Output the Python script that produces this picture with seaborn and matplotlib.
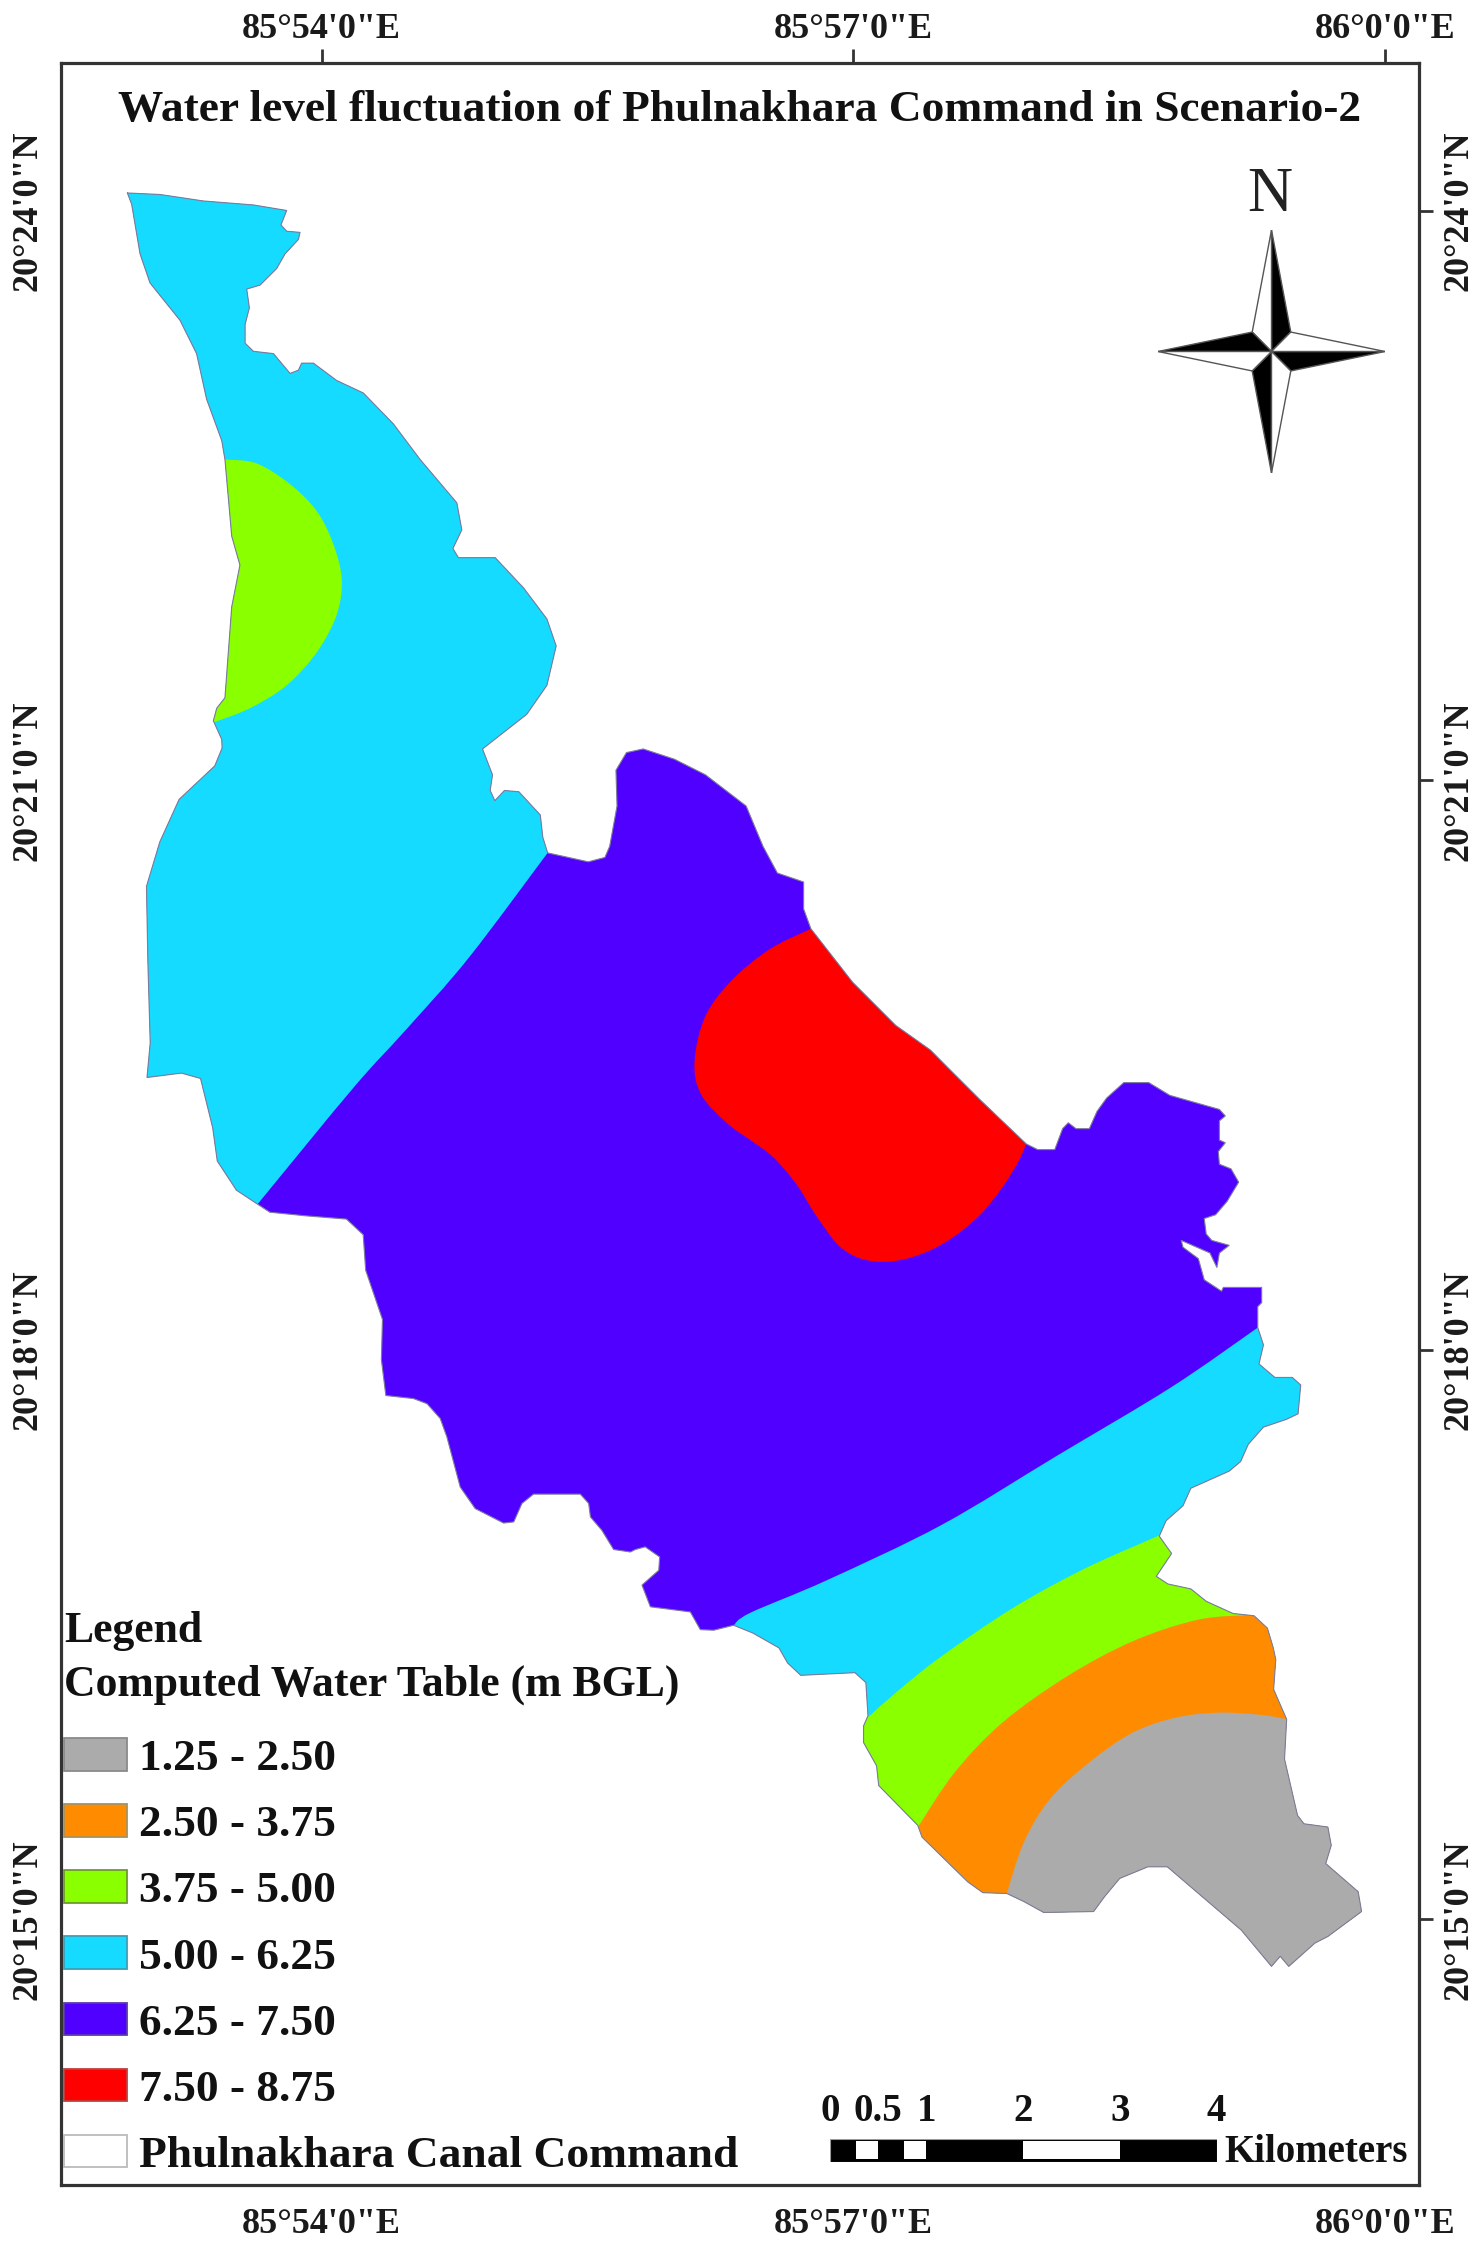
import numpy as np
import matplotlib
matplotlib.use("Agg")
import matplotlib.pyplot as plt
from matplotlib.patches import Patch, PathPatch, Polygon, Rectangle
from matplotlib.path import Path
import seaborn as sns

# traced map coordinates: minutes of arc past 85 deg E and past 20 deg N
BOUNDARY_LON = [52.916,53.099,53.342,53.623,53.809,53.777,53.809,53.884,53.875,53.800,53.753,53.660,53.585,53.600,53.576,53.576,53.623,53.735,53.828,53.875,53.893,53.959,54.089,54.239,54.408,54.557,54.763,54.791,54.741,54.772,54.978,55.137,55.268,55.320,55.268,55.155,54.907,54.963,54.950,54.976,55.030,55.111,55.231,55.245,55.272,55.500,55.593,55.620,55.661,55.655,55.714,55.808,55.983,56.157,56.385,56.479,56.560,56.707,56.707,56.748,56.981,57.224,57.418,57.525,57.697,57.955,58.019,58.115,58.159,58.191,58.234,58.309,58.352,58.406,58.502,58.642,58.760,59.038,59.071,59.038,59.038,59.071,59.032,59.038,59.103,59.146,59.081,59.017,58.953,58.964,58.995,59.093,59.038,59.024,58.985,58.824,58.834,58.920,58.953,59.050,59.060,59.275,59.275,59.253,59.253,59.285,59.260,59.349,59.447,59.494,59.479,59.414,59.285,59.200,59.157,59.093,58.878,58.834,58.739,58.701,58.770,58.684,58.749,58.878,58.964,59.114,59.232,59.307,59.339,59.354,59.342,59.415,59.403,59.476,59.512,59.646,59.665,59.634,59.816,59.835,59.646,59.573,59.427,59.379,59.330,59.160,58.746,58.637,58.479,58.394,58.333,58.053,57.943,57.846,57.712,57.627,57.371,57.347,57.128,57.116,57.043,57.043,57.068,57.056,56.995,56.691,56.617,56.569,56.423,56.315,56.203,56.128,56.072,55.848,55.801,55.895,55.900,55.819,55.764,55.736,55.642,55.576,55.512,55.502,55.455,55.193,55.128,55.082,55.025,54.866,54.782,54.707,54.670,54.596,54.520,54.365,54.340,54.346,54.252,54.238,54.144,53.917,53.715,53.648,53.527,53.420,53.394,53.326,53.219,53.026,53.044,53.031,53.023,53.098,53.206,53.406,53.447,53.445,53.398,53.417,53.463,53.501,53.547,53.501,53.463,53.445,53.360,53.304,53.211,53.043,52.987,52.940]
BOUNDARY_LAT = [24.095,24.087,24.053,24.032,24.003,23.927,23.894,23.888,23.851,23.775,23.698,23.611,23.590,23.492,23.404,23.306,23.263,23.251,23.147,23.164,23.201,23.201,23.110,23.044,22.881,22.695,22.467,22.325,22.227,22.179,22.179,22.020,21.857,21.715,21.508,21.356,21.174,21.038,20.956,20.902,20.956,20.949,20.827,20.710,20.628,20.581,20.604,20.663,20.874,21.062,21.155,21.174,21.120,21.038,20.874,20.663,20.522,20.475,20.334,20.229,19.949,19.721,19.592,19.491,19.330,19.099,19.069,19.069,19.179,19.210,19.179,19.179,19.270,19.340,19.421,19.421,19.354,19.280,19.246,19.220,19.119,19.105,19.059,18.992,18.968,18.898,18.797,18.727,18.707,18.626,18.592,18.566,18.526,18.450,18.526,18.592,18.556,18.496,18.385,18.325,18.345,18.345,18.265,18.244,18.134,18.043,17.943,17.872,17.872,17.832,17.681,17.652,17.611,17.521,17.430,17.380,17.290,17.198,17.119,17.038,16.947,16.827,16.787,16.761,16.696,16.632,16.620,16.555,16.455,16.390,16.233,16.076,15.867,15.571,15.527,15.510,15.414,15.318,15.170,15.066,14.935,14.900,14.778,14.831,14.778,14.969,15.301,15.301,15.240,15.144,15.066,15.061,15.118,15.161,15.165,15.222,15.457,15.519,15.728,15.832,15.954,16.041,16.095,16.269,16.321,16.307,16.372,16.451,16.529,16.570,16.544,16.547,16.640,16.667,16.781,16.859,16.929,16.982,16.968,16.955,16.968,17.069,17.139,17.210,17.259,17.259,17.210,17.113,17.107,17.183,17.296,17.560,17.656,17.734,17.761,17.777,17.965,18.177,18.435,18.622,18.704,18.721,18.740,18.781,18.856,19.009,19.185,19.443,19.471,19.448,19.630,20.053,20.452,20.686,20.909,21.085,21.179,21.224,21.322,21.388,21.443,21.921,22.140,22.292,22.695,22.794,23.012,23.251,23.426,23.622,23.775,24.036]

# zone edges (the smooth class contour), then the points that close each zone outside the boundary
NORTH_CYAN_LON = [55.272,54.829,54.480,54.185,53.644]
NORTH_CYAN_LAT = [20.628,20.076,19.701,19.396,18.780]
NORTH_CYAN_CLOSE = [(53.0,18.6),(52.5,18.6),(52.5,24.5),(55.8,24.5)]
NORTH_GREEN_LON = [53.463,53.641,53.828,53.978,54.071,54.118,54.089,53.978,53.809,53.603,53.407]
NORTH_GREEN_LAT = [22.695,22.674,22.565,22.423,22.249,22.063,21.878,21.682,21.508,21.388,21.316]
NORTH_GREEN_CLOSE = [(53.2,21.316),(53.2,22.695)]
RED_LON = [56.748,56.519,56.305,56.157,56.096,56.131,56.278,56.409,56.538,56.667,56.774,56.903,57.031,57.182,57.354,57.525,57.697,57.826,57.912,57.955]
RED_LAT = [20.229,20.123,19.959,19.771,19.537,19.361,19.208,19.119,19.028,18.887,18.727,18.566,18.496,18.480,18.516,18.596,18.727,18.877,19.008,19.099]
RED_CLOSE = [(58.115,19.796),(56.860,20.400)]
SOUTH_CYAN_LON = [59.253,58.770,58.126,57.482,56.838,56.409,56.315]
SOUTH_CYAN_LAT = [18.134,17.822,17.460,17.098,16.807,16.636,16.570]
SOUTH_CYAN_CLOSE = [(56.315,14.0),(60.5,14.0),(60.5,18.134)]
SOUTH_GREEN_LON = [58.698,58.277,57.872,57.467,57.224,57.078]
SOUTH_GREEN_LAT = [17.041,16.865,16.656,16.398,16.216,16.095]
SOUTH_GREEN_CLOSE = [(56.8,15.97),(56.8,14.0),(60.5,14.0),(60.5,17.041)]
ORANGE_LON = [59.221,58.917,58.552,58.186,57.822,57.554,57.354]
ORANGE_LAT = [16.625,16.599,16.486,16.303,16.059,15.797,15.519]
ORANGE_CLOSE = [(57.1,15.3),(57.1,14.0),(60.5,14.0),(60.5,16.625)]
GRAY_LON = [59.415,59.281,59.038,58.795,58.552,58.309,58.089,57.943,57.846]
GRAY_LAT = [16.076,16.098,16.111,16.085,16.006,15.850,15.658,15.432,15.161]
GRAY_CLOSE = [(57.846,14.0),(60.5,14.0),(60.5,16.076)]

CLASS_LABELS = ["1.25 - 2.50", "2.50 - 3.75", "3.75 - 5.00", "5.00 - 6.25", "6.25 - 7.50", "7.50 - 8.75"]
CLASS_COLORS = ["#ABABAB", "#FF8C00", "#89FF00", "#14DBFF", "#5000FF", "#FF0000"]
COMMAND_LABEL = "Phulnakhara Canal Command"
LON_TICKS = [54, 57, 60]
LON_LABELS = ["85°54'0\"E", "85°57'0\"E", "86°0'0\"E"]
LAT_TICKS = [24, 21, 18, 15]
LAT_LABELS = ["20°24'0\"N", "20°21'0\"N", "20°18'0\"N", "20°15'0\"N"]
SCALE_TICKS = [0, 0.5, 1, 2, 3, 4]
SCALE_LABELS = ["0", "0.5", "1", "2", "3", "4"]
SCALE_WHITE_KM = [(0.27, 0.5), (0.77, 0.99), (2.0, 3.0)]

TITLE = "Water level fluctuation of Phulnakhara Command in Scenario-2"

sns.set_theme(style="white")
plt.rcParams["font.family"] = ["Liberation Serif", "DejaVu Serif"]
palette = sns.color_palette(CLASS_COLORS)

W, H = 1479, 2259
fig = plt.figure(figsize=(W / 100, H / 100), dpi=100, facecolor="white")
ax = fig.add_axes([60.7 / W, 1 - 2184.5 / H, (1419 - 60.7) / W, (2184.5 - 63) / H])

def deg_lon(m):
    # georeference the traced minutes against the graticule ticks
    return 85 + (1.0066 * np.asarray(m, float) - 0.362) / 60

def deg_lat(m):
    return 20 + (24 - 1.00279 * (24 - np.asarray(m, float))) / 60

def contour_path(lons, lats, close):
    """Smooth curve through the traced contour, straight closure outside the boundary."""
    p = np.column_stack([deg_lon(lons), deg_lat(lats)])
    verts, codes = [p[0]], [Path.MOVETO]
    for i in range(len(p) - 1):
        p0 = p[max(i - 1, 0)]
        p3 = p[min(i + 2, len(p) - 1)]
        verts += [p[i] + (p[i + 1] - p0) / 6, p[i + 1] - (p3 - p[i]) / 6, p[i + 1]]
        codes += [Path.CURVE4] * 3
    for lo, la in close:
        verts.append(np.array([deg_lon(lo), deg_lat(la)]))
        codes.append(Path.LINETO)
    verts.append(p[0])
    codes.append(Path.CLOSEPOLY)
    return Path(np.array(verts), codes)

boundary_xy = np.column_stack([deg_lon(BOUNDARY_LON), deg_lat(BOUNDARY_LAT)])
outline = Polygon(boundary_xy, closed=True, facecolor=palette[4], edgecolor="none", zorder=1)
ax.add_patch(outline)

zones = [
    (NORTH_CYAN_LON, NORTH_CYAN_LAT, NORTH_CYAN_CLOSE, palette[3]),
    (NORTH_GREEN_LON, NORTH_GREEN_LAT, NORTH_GREEN_CLOSE, palette[2]),
    (RED_LON, RED_LAT, RED_CLOSE, palette[5]),
    (SOUTH_CYAN_LON, SOUTH_CYAN_LAT, SOUTH_CYAN_CLOSE, palette[3]),
    (SOUTH_GREEN_LON, SOUTH_GREEN_LAT, SOUTH_GREEN_CLOSE, palette[2]),
    (ORANGE_LON, ORANGE_LAT, ORANGE_CLOSE, palette[1]),
    (GRAY_LON, GRAY_LAT, GRAY_CLOSE, palette[0]),
]
for lons, lats, close, colour in zones:
    z = PathPatch(contour_path(lons, lats, close), facecolor=colour, edgecolor="none", zorder=2)
    ax.add_patch(z)
    z.set_clip_path(outline)

closed = np.vstack([boundary_xy, boundary_xy[:1]])
sns.lineplot(x=closed[:, 0], y=closed[:, 1], sort=False, estimator=None, ax=ax,
             color="#7d7d9a", linewidth=0.8, legend=False, zorder=3)

ax.set_xlim(85 + 52.527 / 60, 85 + 60.192 / 60)
ax.set_ylim(20 + 13.603 / 60, 20 + 24.780 / 60)

lon_pos = 85 + np.array(LON_TICKS) / 60
lat_pos = 20 + np.array(LAT_TICKS) / 60
TICK = dict(direction="out", length=10, width=2, color="#333333", labelcolor="#1a1a1a", labelsize=26)
ax.set_xticks(lon_pos, LON_LABELS)
ax.set_yticks(lat_pos, LAT_LABELS)
ax.tick_params(axis="x", pad=7, **TICK)
ax.tick_params(axis="y", pad=2, labelrotation=90, **TICK)
sec_x = ax.secondary_xaxis("top")
sec_x.set_xticks(lon_pos, LON_LABELS)
sec_x.tick_params(axis="x", pad=2, **TICK)
sec_y = ax.secondary_yaxis("right")
sec_y.set_yticks(lat_pos, LAT_LABELS)
sec_y.tick_params(axis="y", pad=7, labelrotation=90, **TICK)
for group in (ax.get_xticklabels(), ax.get_yticklabels(), sec_x.get_xticklabels(), sec_y.get_yticklabels()):
    for t in group:
        t.set_fontweight("bold")
for group in (ax.get_yticklabels(), sec_y.get_yticklabels()):
    for t in group:
        t.set_va("center")
for s in ax.spines.values():
    s.set_visible(True)
    s.set_linewidth(2.3)
    s.set_color("#333333")
sec_x.spines["top"].set_visible(False)
sec_y.spines["right"].set_visible(False)

fig.text(739.5 / W, 1 - 110 / H, TITLE, ha="center", va="center",
         fontsize=32.7, fontweight="bold", color="#111111", zorder=5)

edges = ["#8a8a8a", "#a8925a", "#6f9a2e", "#3d9fb5", "#5a3ab0", "#c04040"]
handles = [Patch(facecolor=c, edgecolor=e, linewidth=1.3) for c, e in zip(palette, edges)]
handles.append(Patch(facecolor="white", edgecolor="#bbbbbb", linewidth=1.3))
leg = ax.legend(handles, CLASS_LABELS + [COMMAND_LABEL],
                title="Legend\nComputed Water Table (m BGL)",
                loc="lower left", bbox_to_anchor=(64 / W, 1 - 2176 / H),
                bbox_transform=fig.transFigure, frameon=False,
                prop={"size": 32.7, "weight": "bold"},
                title_fontproperties={"size": 31.5, "weight": "bold"},
                alignment="left", borderaxespad=0.0, borderpad=0.0,
                handlelength=1.38, handleheight=0.727, handletextpad=0.27,
                labelspacing=0.55)
leg._legend_box.sep = 24
leg.get_title().set_color("#111111")
leg.get_title().set_linespacing(1.44)
for t in leg.get_texts():
    t.set_color("#111111")

# north arrow, in its own unit axes
na = fig.add_axes([1158 / W, 1 - 473 / H, 227 / W, 243 / H])
na.set_xlim(-1, 1); na.set_ylim(-1, 1); na.axis("off")
STAR_CX, STAR_CY = 0.17, 0.16
for (tx, ty, cx, cy, dark) in [
    (0, 1, STAR_CX, STAR_CY, True), (0, 1, -STAR_CX, STAR_CY, False),
    (1, 0, STAR_CX, -STAR_CY, True), (1, 0, STAR_CX, STAR_CY, False),
    (0, -1, -STAR_CX, -STAR_CY, True), (0, -1, STAR_CX, -STAR_CY, False),
    (-1, 0, -STAR_CX, STAR_CY, True), (-1, 0, -STAR_CX, -STAR_CY, False)]:
    na.add_patch(Polygon([(0, 0), (tx, ty), (cx, cy)], closed=True,
                         facecolor="black" if dark else "white",
                         edgecolor="#555555", linewidth=1.0))
fig.text(1270 / W, 1 - 196 / H, "N", ha="center", va="center", fontsize=45, color="#222222")

# scale bar, in kilometres
sb = fig.add_axes([830 / W, 1 - 2161.7 / H, 386.6 / W, 22.7 / H])
sb.set_xlim(0, 4); sb.set_ylim(0, 1)
sb.add_patch(Rectangle((0, 0), 4, 1, facecolor="black", edgecolor="#999999", linewidth=0.8))
for a, b in SCALE_WHITE_KM:
    sb.add_patch(Rectangle((a, 0.1), b - a, 0.8, facecolor="white", edgecolor="none"))
sb.set_xticks(SCALE_TICKS, SCALE_LABELS)
sb.set_yticks([])
sb.tick_params(axis="x", top=False, bottom=False, labeltop=True, labelbottom=False,
               labelsize=28, pad=0.5, labelcolor="#111111")
for t in sb.get_xticklabels():
    t.set_fontweight("bold")
for s in sb.spines.values():
    s.set_visible(False)
sb.text(1.02, 0.41, "Kilometers", transform=sb.transAxes, ha="left", va="center",
        fontsize=28, fontweight="bold", color="#111111")

fig.savefig("out.png", dpi=100, facecolor="white")
